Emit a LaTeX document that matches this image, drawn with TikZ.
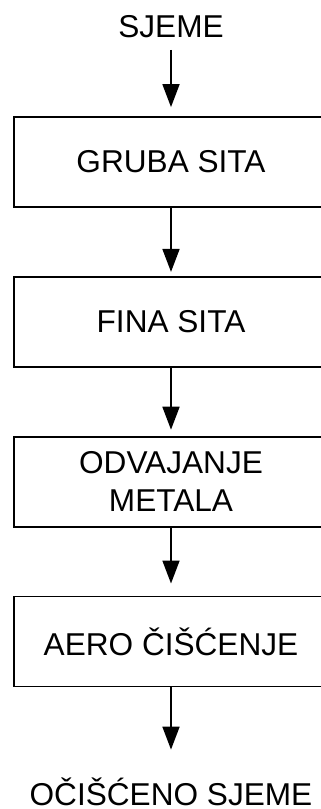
\documentclass[tikz,border=0pt]{standalone}
\usepackage{fontspec}
\setmainfont{Liberation Sans}
\usetikzlibrary{arrows.meta, positioning}
\tikzset{
  stage/.style={draw, line width=0.9pt, align=center, minimum height=45pt, minimum width=157pt, inner sep=0pt},
  term/.style={inner sep=0pt, text height=11.3pt, text depth=0pt},
  arrow/.style={-{Triangle[width=8.5pt, length=11.5pt]}, line width=0.9pt},
  every node/.style={font=\fontsize{15.8pt}{19pt}\selectfont}
}
\begin{document}
\begin{tikzpicture}[node distance=34pt]
    \useasboundingbox (0,0) rectangle (160.5pt,-404.5pt);
    \node[stage] (gruba) at (85.5pt,-81pt) {GRUBA SITA};
    \node[stage, below=of gruba] (fina) {FINA SITA};
    \node[stage, below=of fina] (metal) {ODVAJANJE\\METALA};
    \node[stage, below=of metal] (aero) {AERO ČIŠĆENJE};
    \node[term, above=45pt of gruba.north, anchor=center] (seed) {SJEME};
    \node[term, below=53.5pt of aero.south, anchor=center] (clean) {OČIŠĆENO SJEME};

    \draw[arrow, shorten <=6pt, shorten >=4.5pt] (seed) -- (gruba);
    \draw[arrow, shorten >=2pt] (gruba) -- (fina);
    \draw[arrow, shorten >=3pt] (fina) -- (metal);
    \draw[arrow, shorten >=6pt] (metal) -- (aero);
    \draw[arrow, shorten >=16.5pt] (aero) -- (clean);
\end{tikzpicture}
\end{document}
